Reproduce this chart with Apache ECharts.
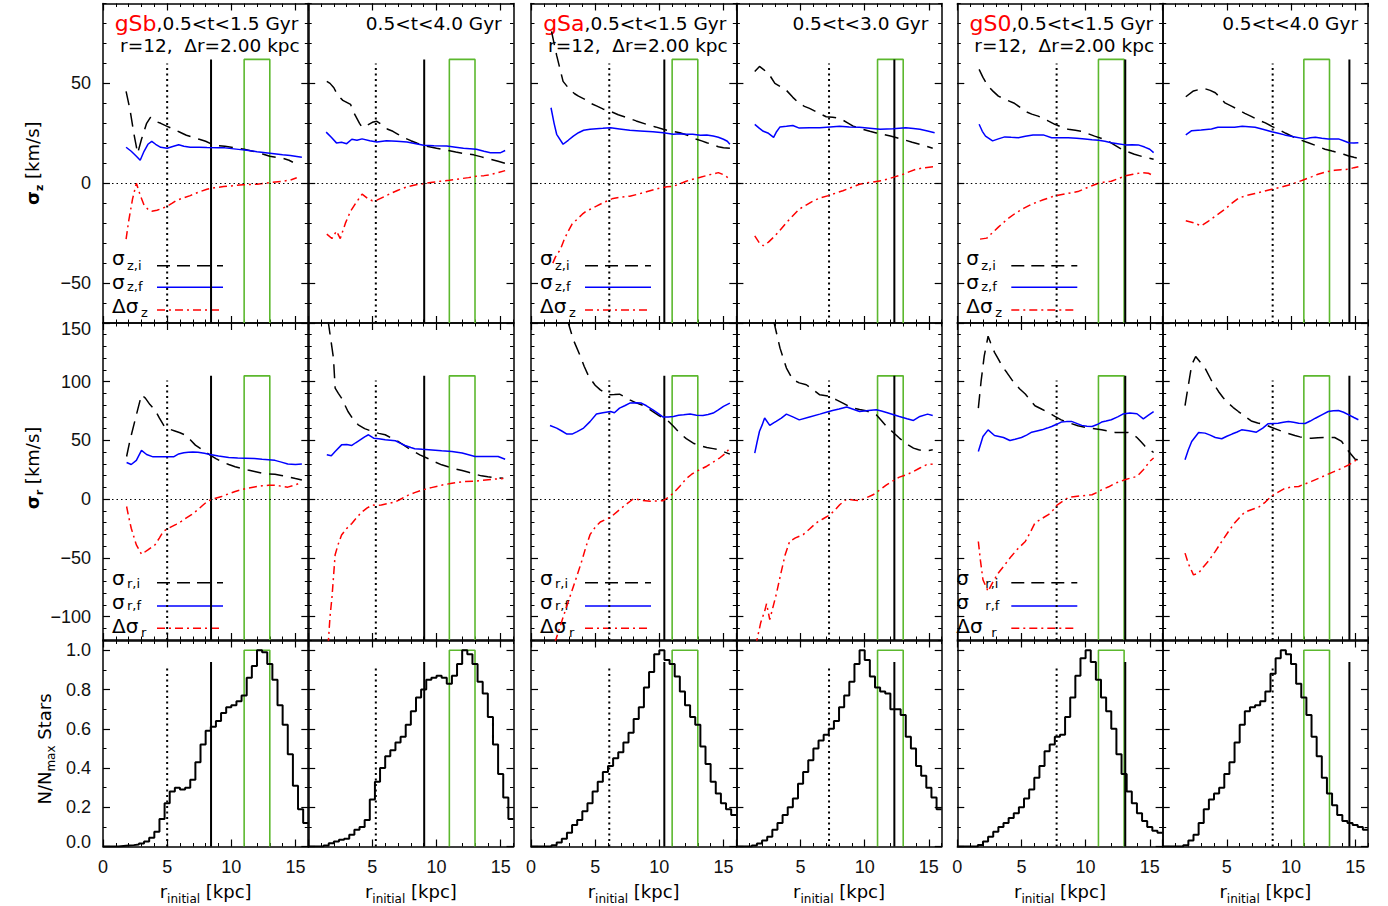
<!DOCTYPE html>
<html><head><meta charset="utf-8">
<script src="https://cdn.jsdelivr.net/npm/echarts@6/dist/echarts.min.js"></script>
<style>html,body{margin:0;padding:0;background:#fff}#c{width:1388px;height:906px}</style>
</head><body><div id="c"></div>
<script>
// ---------------- DATA ----------------
const galaxies = ['gSb', 'gSa', 'gS0'];
const timeWindows = ['0.5<t<1.5 Gyr', '0.5<t<4.0 Gyr', '0.5<t<1.5 Gyr', '0.5<t<3.0 Gyr', '0.5<t<1.5 Gyr', '0.5<t<4.0 Gyr'];
const ringText = 'r=12,  \u0394r=2.00 kpc';
const xTicks = [0, 5, 10, 15];
const xTicksInner = [5, 10, 15];
const yTicksZ = [-50, 0, 50];
const yTicksR = [-100, -50, 0, 50, 100, 150];
const yTicksN = [0, 0.2, 0.4, 0.6, 0.8, 1.0];
const rRange = [0, 16];
const rowRanges = [[-70, 90], [-120, 150], [0, 1.05]];
const binWidth = 0.4;
const solidR = [8.42, 9.04, 10.39, 12.31, 13.09, 14.55];
const dottedR = [5.0, 5.27, 6.1, 7.22, 7.74, 8.57];
const ringBand = [11, 13];
const bandTop = [62, 105, 1.0];
const solidTop = [62, 105, 0.94];
const dottedTop = [60, 101, 0.925];

// sigma_z (top row)
const szi_gSb_15 = [[1.8,46],[2.1,37],[2.4,25],[2.7,15],[3.0,22],[3.4,30],[3.7,33],[4.1,31],[4.5,30],[5.0,28.5],[5.5,27],[6.0,25.5],[6.5,24],[7.0,23],[7.5,22],[8.0,21],[8.5,19.5],[9.0,18.8],[9.5,18.5],[10.0,18],[10.5,17.5],[11.0,17],[11.5,16.3],[12.0,15.5],[12.5,14.5],[13.0,13.5],[13.5,13],[14.0,12.5],[14.5,11.5],[14.8,10.5]];
const szf_gSb_15 = [[1.8,18],[2.2,16],[2.6,13.5],[2.9,11.5],[3.2,16],[3.5,19.5],[3.8,21],[4.1,19.5],[4.5,18],[5.0,17.5],[5.5,18.5],[5.9,19.3],[6.3,18.5],[6.8,18],[7.5,18],[8.1,17.9],[9.0,17.8],[9.5,17.7],[10.2,17.2],[10.9,16.7],[11.5,16.3],[12.0,15.8],[12.5,15.4],[13.0,15],[13.5,14.6],[14.0,14.2],[14.6,13.9],[15.1,13.4],[15.5,13]];
const dsz_gSb_15 = [[1.8,-28],[2.0,-19],[2.3,-8],[2.6,0],[2.9,-6],[3.2,-11],[3.5,-13],[3.8,-14],[4.2,-13.5],[4.6,-12.7],[5.0,-11.5],[5.4,-10],[5.7,-8.7],[6.2,-7.5],[6.8,-6.2],[7.4,-4.6],[8.1,-3],[8.7,-2.3],[9.4,-1.7],[10.2,-1.2],[10.9,-0.8],[12.0,-0.5],[13.0,0.3],[14.0,1],[14.6,1.6],[15.1,2.7]];
const szi_gSb_40 = [[1.45,51],[1.7,50],[2.0,47.8],[2.3,44],[2.7,41.5],[3.0,40.5],[3.3,39.5],[3.5,36],[3.7,33.6],[4.0,30],[4.2,28],[4.6,29],[5.0,30.5],[5.35,31],[5.8,29],[6.2,27],[6.6,26],[7.0,24.5],[7.4,23],[8.0,21.3],[8.5,20],[9.2,18.6],[10.0,17.5],[10.8,16.5],[11.5,15.6],[12.2,14.8],[12.9,14.2],[13.5,13.2],[14.2,12],[14.8,11],[15.35,10]];
const szf_gSb_40 = [[1.4,25.6],[1.8,23],[2.2,20.2],[2.6,20.5],[3.0,19.8],[3.4,22],[3.8,21.5],[4.2,22.2],[4.8,21.3],[5.35,20.6],[6.1,21.3],[6.9,21],[7.7,20.6],[8.4,19.8],[9.0,19],[9.8,18.8],[10.8,18.6],[11.5,18],[12.1,17.5],[13.1,17],[13.7,16],[14.2,15.3],[15.0,15.3],[15.35,16.4]];
const dsz_gSb_40 = [[1.45,-25.5],[1.85,-27.7],[2.2,-24],[2.5,-27.7],[2.9,-20],[3.3,-14],[3.7,-10],[4.2,-5.5],[4.6,-7.5],[5.0,-8.8],[5.35,-8.5],[5.9,-6.8],[6.4,-5.2],[7.0,-3.5],[7.7,-1.8],[8.4,-0.8],[9.0,-0.2],[9.7,0.5],[10.3,1],[11.0,1.5],[11.8,2.2],[12.5,2.8],[13.1,3.5],[13.7,3.8],[14.2,4.3],[14.8,5.3],[15.35,6.3]];
const szi_gSa_15 = [[1.6,76],[2.0,64],[2.5,51],[3.0,47],[3.4,44.8],[3.7,43.6],[4.2,42],[4.6,40.2],[5.1,38.7],[5.6,37.2],[6.2,36],[6.8,34.3],[7.5,32.8],[8.2,31.2],[9.0,29.5],[9.7,28.2],[10.3,27],[11.0,26],[11.6,25.3],[12.2,24],[12.9,22],[13.3,21.2],[13.7,20.3],[14.2,19.2],[14.6,18.3],[15.0,17.8],[15.5,17.5]];
const szf_gSa_15 = [[1.56,37.8],[1.8,30],[2.0,24.5],[2.5,19.5],[2.9,21.5],[3.3,23.6],[3.7,25.3],[4.1,26.5],[4.6,27],[5.1,27.3],[5.6,27.5],[6.2,27.8],[6.9,27.2],[7.7,26.5],[8.5,26.2],[9.5,25.8],[10.3,25.3],[11.1,24.5],[11.6,24.8],[12.1,24.5],[12.6,24.5],[13.2,24],[13.7,24.2],[14.2,23.6],[14.6,23],[15.0,22],[15.3,21],[15.5,19.5]];
const dsz_gSa_15 = [[1.7,-40],[1.9,-37],[2.3,-33],[2.6,-28],[2.9,-24],[3.2,-20.5],[3.6,-18],[4.0,-15.5],[4.3,-14],[4.7,-12.8],[5.1,-11.5],[5.7,-9.5],[6.4,-7.6],[7.0,-7],[7.7,-6.5],[8.4,-5.4],[9.0,-4.3],[9.6,-3.2],[10.1,-2.3],[10.6,-1.8],[11.1,-1.5],[11.6,-0.3],[12.1,1],[12.6,2],[13.2,3],[13.9,4.2],[14.6,5.3],[15.1,4],[15.5,2]];
const szi_gSa_30 = [[1.43,56],[1.8,58.5],[2.1,57],[2.5,55],[3.0,50],[3.4,48.5],[3.9,46.5],[4.4,43],[4.9,40],[5.3,38.5],[5.7,37.5],[6.3,35.5],[7.0,33.3],[7.5,33],[8.05,32.5],[8.6,30.5],[9.1,28.6],[9.7,27.3],[10.4,26],[10.9,25.2],[11.4,24.5],[12.0,23.6],[12.5,22.8],[13.2,21.5],[13.7,20.5],[14.3,19.5],[14.8,18.5],[15.3,17.5]];
const szf_gSa_30 = [[1.43,29.5],[1.8,27.5],[2.1,26],[2.5,25],[2.9,23],[3.1,25.5],[3.4,28.2],[3.9,28.5],[4.4,28.9],[4.9,27.6],[5.7,27.8],[6.5,27.8],[7.3,28.2],[8.05,28.5],[8.8,28.2],[9.6,28],[10.4,27.5],[11.2,27],[12.2,27.3],[13.2,27.8],[13.8,27.4],[14.3,27],[14.9,26.2],[15.45,25.3]];
const dsz_gSa_30 = [[1.43,-26.4],[1.8,-30],[2.1,-31.3],[2.5,-29.5],[3.0,-26.4],[3.4,-23.5],[3.9,-19.7],[4.4,-16.3],[4.9,-13],[5.5,-10.7],[6.0,-8.8],[6.6,-7.2],[7.3,-6],[7.8,-4.8],[8.3,-3.8],[9.0,-2],[9.6,-0.5],[10.1,0.2],[10.65,0.6],[11.3,1.3],[11.9,2.3],[12.4,3.3],[13.0,4.5],[13.5,5.8],[14.0,7],[14.7,7.8],[15.45,8.3]];
const szi_gS0_15 = [[1.7,57],[2.0,53],[2.4,48.6],[2.8,46],[3.2,43.6],[3.8,41.8],[4.4,40.2],[4.9,38],[5.3,36],[5.8,34.6],[6.3,33.6],[7.0,31.5],[7.6,29.5],[8.1,28.2],[8.65,27],[9.2,26.5],[9.7,26],[10.2,24.8],[10.7,23.6],[11.3,22.3],[11.8,21],[12.3,19],[12.8,17],[13.3,15.7],[13.8,14.5],[14.5,13.2],[15.3,12]];
const szf_gS0_15 = [[1.7,29.5],[1.95,26],[2.2,23.6],[2.75,21.2],[3.2,22.2],[3.7,23.2],[4.2,23],[4.75,22.8],[5.3,23.5],[5.9,24.2],[6.7,24.2],[7.35,22.8],[8.0,22.8],[8.65,22.8],[9.3,22.5],[9.95,22.2],[10.5,21.8],[11.0,21.5],[11.5,21],[12.0,20.3],[12.5,19.8],[13.1,19.2],[13.6,19.3],[14.1,19.2],[14.6,18.1],[15.0,17],[15.3,15.3]];
const dsz_gS0_15 = [[1.77,-28],[2.3,-27.5],[2.7,-25],[3.2,-22],[3.9,-18],[4.6,-14.7],[5.2,-12.5],[5.8,-10.5],[6.7,-8.3],[7.6,-6.3],[8.5,-5.2],[9.4,-4.2],[10.2,-2],[11.0,0],[11.5,0.6],[12.0,1],[12.5,2.2],[13.1,3.7],[13.7,4.5],[14.4,5.3],[14.9,5],[15.3,3.7]];
const szi_gS0_40 = [[1.8,43.3],[2.4,46.2],[3.2,47.5],[3.7,46.5],[4.1,45.3],[4.5,42.8],[4.85,40.2],[5.4,38.5],[5.9,36.8],[6.4,35],[6.9,33.5],[7.4,31.8],[8.0,30.2],[8.5,28.5],[9.0,27],[9.6,25],[10.3,22.8],[10.8,21.5],[11.35,20.3],[12.0,18.7],[12.65,17],[13.2,16.1],[13.7,15.3],[14.1,14.5],[14.5,13.6],[14.9,13],[15.25,12.5]];
const szf_gS0_40 = [[1.8,24.2],[2.26,26.3],[3.0,26.7],[3.8,27.2],[4.3,28],[5.0,28],[5.6,28],[6.2,28.5],[6.7,28.3],[7.2,28],[7.8,27],[8.5,25.8],[9.0,25],[9.5,24.2],[10.3,23.2],[11.1,22.2],[11.5,22.8],[11.9,23],[12.4,22.5],[12.9,22.2],[13.7,22.2],[14.1,21.3],[14.5,20.3],[14.9,20.1],[15.25,20.3]];
const dsz_gS0_40 = [[1.8,-18.8],[2.4,-19.8],[3.0,-21.3],[3.6,-18.8],[4.2,-16],[4.85,-13],[5.4,-10],[5.9,-7.5],[6.5,-6.2],[7.2,-5.2],[7.9,-4],[8.5,-3],[9.2,-2],[10.05,-0.5],[10.6,0.8],[11.1,2],[11.6,3.2],[12.1,4.5],[12.7,5.6],[13.4,6.5],[13.9,6.8],[14.5,7],[14.9,7.8],[15.25,8.3]];

// sigma_r (middle row)
const sri_gSb_15 = [[1.84,36.3],[2.1,50],[2.4,63],[2.7,76],[3.0,88.8],[3.3,86],[3.66,80.5],[4.05,76],[4.4,69],[4.8,61.7],[5.2,59.5],[5.6,58],[6.0,56.5],[6.4,54.6],[6.8,50.5],[7.2,46],[7.8,41.5],[8.35,37.5],[8.8,34.5],[9.25,31.9],[9.8,29.5],[10.3,27.6],[10.8,26.2],[11.3,24.8],[11.9,23.3],[12.4,22],[12.9,21.5],[13.4,21.1],[13.9,20.1],[14.4,19.1],[15.0,17.5],[15.5,16.3]];
const srf_gSb_15 = [[1.84,31.2],[2.2,29.5],[2.6,33],[3.0,41.5],[3.4,38],[3.9,36],[4.5,36],[5.0,36],[5.5,36],[5.9,38.5],[6.3,39.5],[6.65,40],[7.0,40.2],[7.4,40],[7.9,39],[8.35,38],[9.0,36.8],[9.8,35.4],[10.5,35],[11.1,34.8],[11.8,34.5],[12.4,34],[12.9,33.6],[13.4,33],[13.9,31.5],[14.4,29.9],[15.0,29.5],[15.5,29.9]];
const dsr_gSb_15 = [[1.84,-6.3],[2.0,-15],[2.2,-24.8],[2.6,-39],[3.0,-47],[3.5,-43.3],[4.05,-39],[4.4,-33],[4.7,-27.6],[5.0,-25.5],[5.35,-23.4],[5.7,-21.5],[6.1,-19],[6.5,-16],[6.9,-13.3],[7.4,-9],[7.8,-5],[8.2,-1.4],[8.7,0.5],[9.25,2.3],[9.8,4.5],[10.3,6.5],[10.8,8],[11.3,9.4],[11.9,10.5],[12.4,11.4],[12.9,11.8],[13.4,11.7],[13.9,11],[14.4,10.2],[15.0,12.2],[15.5,14.2]];
const sri_gSb_40 = [[1.55,152],[1.97,120],[2.1,94.6],[2.35,90],[2.6,86],[3.1,74.6],[3.5,68],[3.9,63.3],[4.4,60],[5.0,57.6],[5.5,56],[6.0,54.8],[6.4,52.5],[6.8,50.5],[7.3,47],[7.8,43.4],[8.25,40.5],[8.7,37.7],[9.4,34.3],[9.9,31.5],[10.4,29.2],[10.9,27.5],[11.45,25.8],[12.0,24.3],[12.5,22.9],[13.0,21.3],[13.5,19.8],[14.0,19],[14.6,18.3],[15.2,17.8]];
const srf_gSb_40 = [[1.45,37.7],[1.8,36.9],[2.1,40.5],[2.6,46.2],[3.0,46.5],[3.4,45.7],[3.7,48],[4.05,50.5],[4.4,53],[4.7,54.8],[5.1,51.9],[5.5,51.5],[6.0,50.5],[6.4,50.2],[6.8,49.7],[7.2,47.5],[7.55,45.7],[8.0,44],[8.3,42.9],[8.9,42.4],[9.4,42],[9.9,41.6],[10.4,41.2],[11.2,40.6],[12.0,39.2],[12.5,37.8],[13.0,36.3],[13.5,36.3],[14.05,36.3],[14.8,36.3],[15.35,34]];
const dsr_gSb_40 = [[1.55,-125],[1.7,-100],[1.85,-84],[2.0,-62],[2.1,-47.4],[2.35,-38],[2.6,-30.6],[3.0,-25],[3.4,-20.7],[3.8,-15.5],[4.2,-10.8],[4.6,-7.5],[5.0,-5.1],[5.4,-5.3],[5.7,-5.1],[6.2,-3.8],[6.8,-2.3],[7.3,0.5],[7.8,3.4],[8.3,5.5],[8.85,7.6],[9.6,9.8],[10.4,11.9],[11.2,13.5],[12.0,14.8],[13.0,15.3],[13.6,16],[14.3,16.8],[15.2,17.6]];
const sri_gSa_15 = [[2.85,152],[3.3,135.7],[3.8,122.9],[4.15,113],[4.5,104.5],[5.0,97],[5.4,93],[6.0,88.8],[6.5,89],[6.9,89.4],[7.3,87],[7.7,84.5],[8.2,82],[8.75,79.7],[9.1,77.5],[9.5,74.6],[10.0,71],[10.6,67.5],[11.1,62],[11.6,56.1],[12.1,51.5],[12.65,47.6],[13.2,45.5],[13.7,43.9],[14.2,43],[14.7,41.9],[15.1,40],[15.5,38.3]];
const srf_gSa_15 = [[1.48,62.7],[2.0,60.5],[2.4,58],[2.8,55.4],[3.2,55.4],[3.6,57.5],[4.1,60.5],[4.6,66],[5.1,72.4],[5.6,73.5],[6.2,74.6],[6.5,73.5],[6.9,77.5],[7.3,79.5],[7.7,81.8],[8.2,82],[8.6,81.8],[9.0,79.5],[9.5,76.1],[9.9,73],[10.3,69.9],[10.7,70],[11.1,70.4],[11.5,71.5],[11.9,71.8],[12.4,72.4],[12.9,71.5],[13.4,71.3],[13.8,72],[14.2,73.3],[14.6,76],[15.0,79],[15.5,81.8]];
const dsr_gSa_15 = [[1.87,-122],[2.4,-104],[3.0,-84.3],[3.5,-68],[3.95,-53],[4.3,-40],[4.6,-30.3],[5.0,-24],[5.4,-19.5],[5.8,-17.5],[6.2,-15.5],[6.9,-9],[7.4,-4.5],[8.0,0.4],[8.6,-1],[9.3,-1.9],[9.8,-1.6],[10.3,-1.3],[10.7,1.5],[11.1,5.2],[11.6,11],[12.1,17.4],[12.5,21],[12.9,23.7],[13.3,25.8],[13.7,28],[14.2,31.5],[14.7,35],[15.1,38.5],[15.4,42.2]];
const sri_gSa_30 = [[2.9,152],[3.4,128.6],[3.9,111.6],[4.4,101.7],[4.9,99],[5.45,97.4],[6.0,93],[6.5,88.8],[7.0,88],[7.3,87.4],[7.8,84.5],[8.3,81.8],[8.7,79.5],[9.1,77.5],[9.6,76.3],[10.1,75.2],[10.5,73.5],[10.9,71.8],[11.3,67],[11.7,61.9],[12.2,57],[12.7,52],[13.2,47.5],[13.8,43.4],[14.2,42],[14.55,41.2],[15.0,41.5],[15.3,42]];
const srf_gSa_30 = [[1.43,39.2],[1.6,48],[1.8,57.8],[2.0,63],[2.2,69.1],[2.6,62.8],[2.9,65],[3.1,66.3],[3.5,69],[3.9,72.4],[4.4,70],[4.9,67.5],[5.7,70],[6.5,72.4],[7.0,74],[7.5,75.5],[8.0,76.8],[8.6,78.4],[9.1,76.5],[9.6,74.6],[10.3,75.5],[10.9,76.1],[11.3,75],[11.7,73.8],[12.2,72],[12.7,70.4],[13.3,68.5],[13.8,67],[14.3,70.4],[14.9,72.4],[15.3,71.3]];
const dsr_gSa_30 = [[1.5,-125],[1.9,-105],[2.2,-95.6],[2.35,-89],[2.6,-102.7],[2.85,-92],[3.1,-81.5],[3.45,-64],[3.8,-47.4],[4.15,-36],[4.6,-33],[5.2,-30.3],[5.7,-25.5],[6.2,-20.4],[6.8,-16.5],[7.3,-13.3],[7.7,-9],[8.05,-4.8],[8.6,0],[9.1,-0.8],[9.6,-1.4],[10.1,1],[10.65,3.7],[11.2,8],[11.7,12.2],[12.2,15.5],[12.7,18.7],[13.3,21],[13.8,23.5],[14.3,26.5],[14.8,29.2],[15.3,29.8]];
const sri_gS0_15 = [[1.64,77.5],[1.85,100],[2.1,122],[2.4,138.7],[2.6,133],[2.9,125],[3.2,119.3],[3.5,113],[3.85,108],[4.4,99.4],[4.85,94],[5.3,89.5],[5.7,84],[6.05,79.5],[6.6,76.5],[7.1,73.8],[7.6,70.5],[8.1,67.5],[8.7,65],[9.4,62.5],[10.0,61],[10.5,60.2],[11.25,59],[11.8,58],[12.3,56.8],[13.3,56.8],[13.7,55],[14.0,52.5],[14.3,49],[14.6,45.4],[15.0,42],[15.3,39.7]];
const srf_gS0_15 = [[1.64,40.5],[2.0,53.3],[2.4,59],[2.9,54.2],[3.6,52.5],[4.1,49.9],[4.5,51],[5.0,52.5],[5.4,54.5],[5.8,57],[6.2,58],[6.6,59],[7.0,60.5],[7.35,61.9],[7.7,63.5],[8.1,65.6],[8.5,66],[8.9,66.2],[9.3,64.5],[9.7,62.8],[10.1,62],[10.5,61.9],[10.9,63.5],[11.25,65.6],[11.6,66.5],[12.0,67.6],[12.5,70],[12.9,72.4],[13.45,73.3],[14.0,72.7],[14.5,68.4],[14.9,71.5],[15.3,74.6]];
const dsr_gS0_15 = [[1.64,-36.1],[1.8,-52],[2.0,-68.7],[2.4,-78.6],[2.8,-70],[3.2,-63],[3.7,-56],[4.2,-48.8],[4.7,-42.5],[5.3,-36.1],[5.7,-28],[6.05,-20.4],[6.6,-16.5],[7.1,-13.3],[7.45,-9.5],[7.75,-5.4],[8.2,-2],[8.65,1.4],[9.2,2.2],[9.7,2.8],[10.5,3.7],[10.9,5.8],[11.25,7.9],[11.8,10.5],[12.3,13.6],[12.7,15],[13.05,16.5],[13.5,17.9],[14.0,19.3],[14.5,25],[15.0,32.1],[15.3,35]];
const sri_gS0_40 = [[1.74,79.7],[2.0,97],[2.26,114.4],[2.57,121.5],[2.9,117],[3.3,111.6],[3.8,101],[4.35,91.7],[4.7,86.5],[5.1,81.8],[5.5,78],[5.9,74.6],[6.4,70.5],[6.9,66.6],[7.4,64.8],[8.0,63.3],[8.5,61],[9.0,59],[9.6,56.5],[10.3,54.2],[10.7,53],[11.1,51.9],[11.6,51.9],[12.1,52.3],[12.65,52.5],[13.4,52.5],[13.95,49.1],[14.2,45],[14.5,40.5],[15.0,34],[15.25,33.4]];
const srf_gS0_40 = [[1.74,33.5],[2.0,42],[2.26,49.1],[2.8,56.8],[3.3,56.2],[3.7,54.5],[4.1,52.5],[4.6,51.4],[5.0,53.5],[5.4,55.4],[5.8,57.2],[6.15,59],[6.7,58.2],[7.3,57],[7.8,60.5],[8.2,64.1],[8.6,64.4],[9.0,64.7],[9.4,65.4],[9.8,66.1],[10.2,65.4],[10.6,64.7],[11.1,64.4],[11.5,66.5],[11.9,68.9],[12.4,71.8],[12.9,74.6],[13.3,75.2],[13.7,75.5],[14.1,74],[14.5,71.8],[14.9,69.5],[15.25,67.6]];
const dsr_gS0_40 = [[1.74,-46],[2.0,-55],[2.4,-64.5],[2.8,-63],[3.15,-58],[3.55,-53],[4.1,-44.5],[4.6,-36.1],[5.1,-28],[5.6,-20.4],[6.0,-15.5],[6.4,-11.1],[6.9,-9],[7.45,-7.1],[8.0,-2.5],[8.5,2.8],[9.0,6],[9.55,9.4],[10.1,10.3],[10.6,10.8],[11.1,13],[11.6,15.1],[12.25,18.2],[12.9,21.3],[13.3,23.2],[13.7,25],[14.1,27],[14.5,29.2],[14.9,32],[15.25,34.3]];

// normalised histograms of r_initial (bottom row), 40 bins of 0.4 kpc
const hist_gSb_15 = [0,0,0,0.003,0.005,0.007,0.01,0.015,0.025,0.045,0.075,0.14,0.22,0.28,0.30,0.29,0.30,0.34,0.43,0.52,0.59,0.61,0.64,0.68,0.71,0.72,0.74,0.77,0.86,0.92,1.0,0.99,0.93,0.85,0.72,0.62,0.47,0.31,0.19,0.12];
const hist_gSb_40 = [0,0,0,0.005,0.017,0.025,0.035,0.04,0.06,0.085,0.10,0.135,0.24,0.33,0.40,0.46,0.49,0.53,0.56,0.62,0.69,0.76,0.80,0.85,0.86,0.87,0.86,0.83,0.87,0.93,1.0,0.98,0.93,0.84,0.78,0.66,0.52,0.37,0.25,0.14];
const hist_gSa_15 = [0,0,0,0,0.006,0.02,0.04,0.07,0.11,0.135,0.18,0.22,0.28,0.33,0.38,0.41,0.45,0.48,0.53,0.58,0.65,0.71,0.81,0.89,0.98,1.0,0.95,0.93,0.866,0.79,0.72,0.66,0.62,0.51,0.42,0.33,0.27,0.22,0.19,0.16];
const hist_gSa_30 = [0,0,0,0.005,0.015,0.03,0.05,0.085,0.12,0.16,0.2,0.245,0.32,0.38,0.44,0.50,0.54,0.57,0.60,0.64,0.71,0.77,0.84,0.93,1.0,0.95,0.866,0.81,0.79,0.78,0.70,0.70,0.67,0.56,0.50,0.41,0.36,0.30,0.25,0.19];
const hist_gS0_15 = [0,0,0,0,0.008,0.025,0.05,0.075,0.10,0.12,0.145,0.17,0.2,0.245,0.29,0.35,0.41,0.485,0.52,0.56,0.57,0.66,0.76,0.87,0.96,1.0,0.94,0.85,0.76,0.69,0.60,0.47,0.37,0.28,0.22,0.17,0.13,0.10,0.08,0.07];
const hist_gS0_40 = [0,0,0,0,0.006,0.03,0.06,0.12,0.19,0.24,0.27,0.30,0.37,0.43,0.53,0.62,0.69,0.71,0.72,0.74,0.79,0.88,0.96,1.0,0.98,0.93,0.83,0.76,0.67,0.56,0.46,0.35,0.27,0.21,0.16,0.13,0.12,0.11,0.10,0.085];

const sigmaZSets = [[szi_gSb_15, szf_gSb_15, dsz_gSb_15], [szi_gSb_40, szf_gSb_40, dsz_gSb_40], [szi_gSa_15, szf_gSa_15, dsz_gSa_15], [szi_gSa_30, szf_gSa_30, dsz_gSa_30], [szi_gS0_15, szf_gS0_15, dsz_gS0_15], [szi_gS0_40, szf_gS0_40, dsz_gS0_40]];
const sigmaRSets = [[sri_gSb_15, srf_gSb_15, dsr_gSb_15], [sri_gSb_40, srf_gSb_40, dsr_gSb_40], [sri_gSa_15, srf_gSa_15, dsr_gSa_15], [sri_gSa_30, srf_gSa_30, dsr_gSa_30], [sri_gS0_15, srf_gS0_15, dsr_gS0_15], [sri_gS0_40, srf_gS0_40, dsr_gS0_40]];
const histSets = [hist_gSb_15, hist_gSb_40, hist_gSa_15, hist_gSa_30, hist_gS0_15, hist_gS0_40];

// ---------------- LAYOUT / STYLE ----------------
const colLeft = [103, 308.2, 531, 736.4, 957.3, 1162.7];
const colWidth = 205.3;
const rowTop = [3.5, 323, 640.5];
const rowHeight = [319.5, 317, 206];
const fontTick = "'Liberation Sans Narrow','Liberation Sans',sans-serif";
const fontText = "'DejaVu Sans',sans-serif";
const GREEN = '#5cb82e';
const curveStyles = [
  {color: '#000000', width: 1.5, type: [14, 8]},
  {color: '#0000ff', width: 1.5, type: 'solid'},
  {color: '#ff0000', width: 1.5, type: [8, 4, 2, 4]}
];

const grids = [], xAxes = [], yAxes = [], series = [];
const lineOn = {show: true, onZero: false, lineStyle: {color: '#000', width: 1.5}};
const lineOff = {show: false, onZero: false};
const minorTick = {show: true, inside: true, length: 3.5, lineStyle: {color: '#000', width: 1}};
function majorTick(vals) { return {show: true, inside: true, length: 7, customValues: vals, lineStyle: {color: '#000', width: 1.2}}; }
const labelFont = {fontFamily: fontTick, fontSize: 18, color: '#111'};
const yMajor = [yTicksZ, yTicksR, yTicksN];
const yMinorStep = [10, 10, 0.1];
const yNames = [
  '{b|\u03c3}{bs|z}{n| [km/s]}',
  '{b|\u03c3}{bs|r}{n| [km/s]}',
  '{n|N/N}{s|max}{n| Stars}'
];
const yNameGap = [58, 58, 46];
const yNamePad = [[0, 0, 0, 0], [0, 0, 0, 27], [0, 11, 0, 0]];
const nameRich = {
  b: {fontSize: 18, fontWeight: 'bold', fontFamily: fontText, verticalAlign: 'bottom', padding: [0, 0, 4, 0], color: '#000'},
  bs: {fontSize: 11, fontWeight: 'bold', fontFamily: fontText, verticalAlign: 'bottom', color: '#000'},
  n: {fontSize: 18, fontFamily: fontText, verticalAlign: 'bottom', padding: [0, 0, 4, 0], color: '#000'},
  s: {fontSize: 12, fontFamily: fontText, verticalAlign: 'bottom', color: '#000'}
};

function yFormatter(row) {
  return function (v) {
    if (row === 2) { const s = v.toFixed(1); return v === 0 ? '{lo|' + s + '}' : s; }
    const s = v < 0 ? '\u2212' + Math.abs(v) : String(v);
    return (row === 1 && v === 150) ? '{hi|' + s + '}' : s;
  };
}

for (let row = 0; row < 3; row++) {
  for (let col = 0; col < 6; col++) {
    const g = row * 6 + col;
    const yMin = rowRanges[row][0], yMax = rowRanges[row][1];
    grids.push({left: colLeft[col], top: rowTop[row], width: colWidth, height: rowHeight[row], show: false});
    const base = {gridIndex: g, type: 'value', splitLine: {show: false}, silent: true};
    const xMaj = Object.assign({}, base, {position: 'bottom', min: rRange[0], max: rRange[1], axisLine: lineOn, axisTick: majorTick(xTicks),
      axisLabel: row === 2 ? Object.assign({show: true, margin: 11, customValues: (col % 2 === 0 ? xTicks : xTicksInner), formatter: v => String(v)}, labelFont) : {show: false}});
    if (row === 2) {
      xMaj.name = '{m|r}{s|initial}{m| [kpc]}';
      xMaj.nameLocation = 'middle';
      xMaj.nameGap = 36;
      xMaj.nameTextStyle = {rich: {m: {fontSize: 18, fontFamily: fontText, verticalAlign: 'bottom', padding: [0, 0, 4, 0], color: '#000'}, s: {fontSize: 12, fontFamily: fontText, verticalAlign: 'bottom', color: '#000'}}};
    }
    xAxes.push(xMaj);
    xAxes.push(Object.assign({}, base, {position: 'bottom', min: rRange[0], max: rRange[1], interval: 1, axisLine: lineOff, axisTick: minorTick, axisLabel: {show: false}}));
    xAxes.push(Object.assign({}, base, {position: 'top', min: rRange[0], max: rRange[1], axisLine: lineOn, axisTick: majorTick(xTicks), axisLabel: {show: false}}));
    xAxes.push(Object.assign({}, base, {position: 'top', min: rRange[0], max: rRange[1], interval: 1, axisLine: lineOff, axisTick: minorTick, axisLabel: {show: false}}));
    const yMaj = Object.assign({}, base, {position: 'left', min: yMin, max: yMax, axisLine: lineOn, axisTick: majorTick(yMajor[row]),
      axisLabel: col === 0 ? Object.assign({show: true, margin: 12, customValues: yMajor[row], formatter: yFormatter(row),
        rich: {lo: Object.assign({padding: [0, 0, 10, 0]}, labelFont), hi: Object.assign({padding: [12, 0, 0, 0]}, labelFont)}}, labelFont) : {show: false}});
    if (col === 0) {
      yMaj.name = yNames[row];
      yMaj.nameLocation = 'middle';
      yMaj.nameRotate = 90;
      yMaj.nameGap = yNameGap[row];
      yMaj.nameTextStyle = {padding: yNamePad[row], rich: nameRich};
    }
    yAxes.push(yMaj);
    yAxes.push(Object.assign({}, base, {position: 'left', min: yMin, max: yMax, interval: yMinorStep[row], axisLine: lineOff, axisTick: minorTick, axisLabel: {show: false}}));
    yAxes.push(Object.assign({}, base, {position: 'right', min: yMin, max: yMax, axisLine: lineOn, axisTick: majorTick(yMajor[row]), axisLabel: {show: false}}));
    yAxes.push(Object.assign({}, base, {position: 'right', min: yMin, max: yMax, interval: yMinorStep[row], axisLine: lineOff, axisTick: minorTick, axisLabel: {show: false}}));

    const ax = {xAxisIndex: 4 * g, yAxisIndex: 4 * g, type: 'line', symbol: 'none', showSymbol: false, silent: true, animation: false, clip: true};
    const band = Object.assign({}, ax, {z: 3,
      data: [[ringBand[0], yMin], [ringBand[0], bandTop[row]], [ringBand[1], bandTop[row]], [ringBand[1], yMin]],
      lineStyle: {color: GREEN, width: 1.6}});
    if (row < 2) {
      band.markLine = {symbol: ['none', 'none'], silent: true, animation: false, label: {show: false},
        lineStyle: {color: '#000', width: 1, type: [1.5, 3]}, data: [{yAxis: 0}]};
    }
    series.push(band);
    series.push(Object.assign({}, ax, {z: 3, data: [[solidR[col], yMin], [solidR[col], solidTop[row]]], lineStyle: {color: '#000', width: 2}}));
    series.push(Object.assign({}, ax, {z: 3, data: [[dottedR[col], yMin], [dottedR[col], dottedTop[row]]], lineStyle: {color: '#000', width: 2, type: [2, 3.5]}}));
    if (row < 2) {
      const sets = row === 0 ? sigmaZSets[col] : sigmaRSets[col];
      sets.forEach((d, i) => series.push(Object.assign({}, ax, {z: 4, data: d, lineStyle: curveStyles[i]})));
    } else {
      const h = histSets[col];
      const hd = h.map((v, i) => [i * binWidth, v]);
      hd.push([rRange[1], h[h.length - 1]]);
      series.push(Object.assign({}, ax, {z: 4, step: 'end', data: hd, lineStyle: {color: '#000', width: 2}}));
    }
  }
}

// ---------------- TEXT / LEGEND GRAPHICS ----------------
const graphics = [];
const titleRight = [10, 11.8, 10, 13.4, 9.4, 10];
for (let col = 0; col < 6; col++) {
  const right = colLeft[col] + colWidth - titleRight[col];
  if (col % 2 === 0) {
    graphics.push({type: 'text', x: right, y: 23, silent: true, style: {
      text: '{g|' + galaxies[col / 2] + '}{k|,' + timeWindows[col] + '}', align: 'right', verticalAlign: 'middle',
      rich: {g: {fontSize: 22, fontFamily: fontText, fill: '#ff0000', color: '#ff0000'}, k: {fontSize: 18.5, fontFamily: fontText, fill: '#000', color: '#000'}}}});
    graphics.push({type: 'text', x: colLeft[col] + colWidth - 8.5, y: 45, silent: true, style: {
      text: ringText, align: 'right', verticalAlign: 'middle', fontSize: 18.5, fontFamily: fontText, fill: '#000'}});
  } else {
    graphics.push({type: 'text', x: right, y: 23, silent: true, style: {
      text: timeWindows[col], align: 'right', verticalAlign: 'middle', fontSize: 18.5, fontFamily: fontText, fill: '#000'}});
  }
}
// legends (rows 0 and 1, first panel of each galaxy)
const legendSpec = [
  {subs: ['z,i', 'z,f', 'z'], sigY: [258, 282, 306], subY: [265, 286, 312], lineY: [265.7, 287.3, 310],
   sigX: [[9, 9, 9], [9, 9, 9], [9, 9, 9]], subX: [[24, 24, 38], [24, 24, 38], [24, 24, 38]]},
  {subs: ['r,i', 'r,f', 'r'], sigY: [578, 602, 626], subY: [583, 605.5, 632], lineY: [582.7, 606, 628.3],
   sigX: [[9, 9, 9], [9, 9, 9], [-1, -1, -1]], subX: [[24, 24, 38], [24, 24, 38], [28, 28, 34]]}
];
const legendColors = ['#000000', '#0000ff', '#ff0000'];
const legendDash = [[13, 7], null, [8, 4, 2, 4]];
legendSpec.forEach((spec, row) => {
  [0, 2, 4].forEach((col, gi) => {
    const L = colLeft[col];
    for (let k = 0; k < 3; k++) {
      graphics.push({type: 'text', x: L + spec.sigX[gi][k], y: spec.sigY[k], silent: true, style: {
        text: (k === 2 ? '\u0394\u03c3' : '\u03c3'), align: 'left', verticalAlign: 'middle', fontSize: 20, fontFamily: fontText, fill: '#000'}});
      graphics.push({type: 'text', x: L + spec.subX[gi][k], y: spec.subY[k], silent: true, style: {
        text: spec.subs[k], align: 'left', verticalAlign: 'middle', fontSize: 13, fontFamily: fontText, fill: '#000'}});
      graphics.push({type: 'line', silent: true, shape: {x1: L + 54, y1: spec.lineY[k], x2: L + 120, y2: spec.lineY[k]},
        style: {stroke: legendColors[k], lineWidth: 1.5, lineDash: legendDash[k]}});
    }
  });
});

const chart = echarts.init(document.getElementById('c'), null, {renderer: 'svg', width: 1388, height: 906});
chart.setOption({
  animation: false,
  backgroundColor: '#ffffff',
  grid: grids,
  xAxis: xAxes,
  yAxis: yAxes,
  series: series,
  graphic: {elements: graphics}
});
</script></body></html>
